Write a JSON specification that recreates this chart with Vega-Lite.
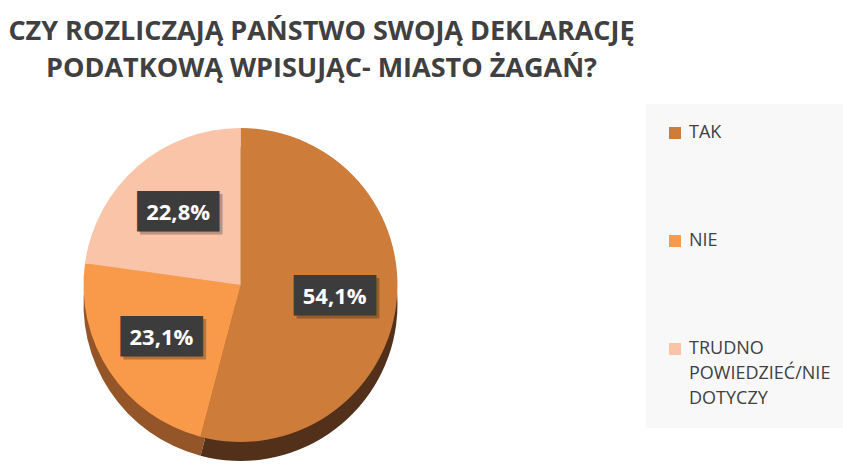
{
  "$schema": "https://vega.github.io/schema/vega-lite/v6.json",
  "width": 843,
  "height": 466,
  "autosize": {"type": "fit", "contains": "padding"},
  "padding": {"left": 0, "right": -8, "top": 18, "bottom": 0},
  "background": "white",
  "config": {"view": {"stroke": null}},
  "title": {
    "text": ["CZY ROZLICZAJĄ PAŃSTWO SWOJĄ DEKLARACJĘ", "PODATKOWĄ WPISUJĄC- MIASTO ŻAGAŃ?"],
    "font": "Open Sans",
    "fontSize": 27,
    "fontWeight": "bold",
    "color": "#404040",
    "anchor": "middle",
    "frame": "bounds",
    "dx": -104,
    "lineHeight": 37,
    "offset": 21
  },
  "data": {
    "values": [
      {"cat": "TAK", "value": 54.1, "order": 1, "label": "54,1%"},
      {"cat": "NIE", "value": 23.1, "order": 2, "label": "23,1%"},
      {"cat": "TRUDNO POWIEDZIEĆ/NIE DOTYCZY", "value": 22.8, "order": 3, "label": "22,8%"}
    ]
  },
  "encoding": {
    "theta": {"field": "value", "type": "quantitative", "stack": true},
    "order": {"field": "order", "type": "quantitative"}
  },
  "layer": [
    {
      "mark": {"type": "arc", "outerRadius": 157, "yOffset": 19},
      "encoding": {
        "fill": {
          "condition": [
            {"test": "datum.cat == 'TAK'", "value": "#53301A"},
            {"test": "datum.cat == 'NIE'", "value": "#945628"}
          ],
          "value": "#C9906C"
        }
      }
    },
    {
      "mark": {"type": "arc", "outerRadius": 157},
      "encoding": {
        "color": {
          "field": "cat",
          "type": "nominal",
          "sort": ["TAK", "NIE", "TRUDNO POWIEDZIEĆ/NIE DOTYCZY"],
          "scale": {
            "domain": ["TAK", "NIE", "TRUDNO POWIEDZIEĆ/NIE DOTYCZY"],
            "range": ["#CD7C3A", "#F99A4A", "#FAC4A8"]
          },
          "legend": {
            "orient": "right",
            "offset": 165,
            "title": null,
            "fillColor": "#F8F8F8",
            "padding": 20,
            "symbolType": "square",
            "symbolSize": 144,
            "symbolStrokeWidth": 0,
            "labelFont": "Open Sans",
            "labelFontSize": 18,
            "labelColor": "#404040",
            "rowPadding": 90,
            "labelLimit": 300,
            "labelOffset": 5,
            "labelExpr": "datum.label == 'TRUDNO POWIEDZIEĆ/NIE DOTYCZY' ? ['TRUDNO', 'POWIEDZIEĆ/NIE', 'DOTYCZY'] : datum.label",
            "encode": {"labels": {"update": {"lineHeight": {"value": 25}}}}
          }
        }
      }
    },
    {
      "mark": {
        "type": "text",
        "radius": 95,
        "font": "DejaVu Sans Mono",
        "fontSize": 34,
        "color": "#000000",
        "opacity": 0.25,
        "dx": 3,
        "dy": 3,
        "text": "████"
      }
    },
    {
      "mark": {
        "type": "text",
        "radius": 95,
        "font": "DejaVu Sans Mono",
        "fontSize": 34,
        "color": "#3C3C3C",
        "text": "████"
      }
    },
    {
      "mark": {
        "type": "text",
        "radius": 95,
        "font": "Open Sans",
        "fontSize": 22,
        "fontWeight": "bold",
        "color": "white"
      },
      "encoding": {"text": {"field": "label"}}
    }
  ]
}
